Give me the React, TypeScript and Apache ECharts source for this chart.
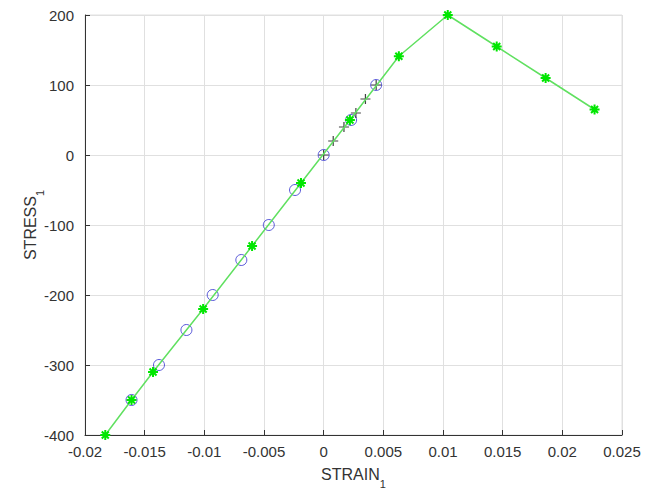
import React, { useEffect, useRef } from "react";
import * as echarts from "echarts";

const starX = [-0.0183, -0.0161, -0.0143, -0.0101, -0.006, -0.0019, 0.0022, 0.0063, 0.0104, 0.0145, 0.0186, 0.0227];
const starY = [-400, -350, -310, -220, -130, -40, 50, 141, 200, 155, 110, 65];

const circleX = [-0.0161, -0.0138, -0.0115, -0.0093, -0.0069, -0.0046, -0.0024, 0, 0.0023, 0.0044];
const circleY = [-350, -300, -250, -200, -150, -100, -50, 0, 50, 100];

const plusX = [0, 0.0008, 0.0017, 0.0027, 0.0035, 0.0044];
const plusY = [0, 20, 40, 60, 80, 100];

const xTicks = { min: -0.02, max: 0.025, interval: 0.005 };
const yTicks = { min: -400, max: 200, interval: 100 };

const FONT = "'Liberation Sans', Arial, Helvetica, sans-serif";
const STAR = "path://M5,0L5,10M0,5L10,5M1.5,1.5L8.5,8.5M1.5,8.5L8.5,1.5";
const PLUS = "path://M5,0L5,10M0,5L10,5";

export default function App() {
  const ref = useRef<HTMLDivElement>(null);
  useEffect(() => {
    if (!ref.current) return;
    const chart = echarts.init(ref.current, null, { renderer: "svg" });
    const axisCommon = {
      type: "value" as const,
      axisLine: { show: true, onZero: false, lineStyle: { color: "#333", width: 1 } },
      axisTick: { show: true, inside: true, length: 5, lineStyle: { color: "#333" } },
      splitLine: { show: true, lineStyle: { color: "#e0e0e0", width: 1 } },
      nameLocation: "middle" as const,
      nameMoveOverlap: false,
    };
    const nameRich = {
      a: { fontSize: 16, fontFamily: FONT, color: "#333", lineHeight: 18 },
      s: { fontSize: 11, fontFamily: FONT, color: "#333", lineHeight: 30, verticalAlign: "bottom" },
    };
    chart.setOption({
      animation: false,
      backgroundColor: "#fff",
      grid: {
        left: 85,
        right: 23,
        top: 15,
        bottom: 60,
        show: true,
        borderColor: "#e0e0e0",
        borderWidth: 1,
        backgroundColor: "#fff",
      },
      xAxis: {
        ...axisCommon,
        min: xTicks.min,
        max: xTicks.max,
        interval: xTicks.interval,
        axisLabel: {
          color: "#333",
          fontSize: 15,
          fontFamily: FONT,
          margin: 9,
          formatter: (v: number) => String(+v.toFixed(4)),
        },
        name: "{a|STRAIN}{s|1}",
        nameGap: 24,
        nameTextStyle: { rich: nameRich },
      },
      yAxis: {
        ...axisCommon,
        min: yTicks.min,
        max: yTicks.max,
        interval: yTicks.interval,
        axisLabel: {
          color: "#333",
          fontSize: 15,
          fontFamily: FONT,
          margin: 11,
        },
        name: "{a|STRESS}{s|1}",
        nameGap: 40,
        nameTextStyle: { rich: nameRich },
      },
      series: [
        {
          type: "scatter",
          data: circleX.map((x, i) => [x, circleY[i]]),
          symbol: "circle",
          symbolSize: 11,
          itemStyle: { color: "rgba(0,0,0,0)", borderColor: "#3030d0", borderWidth: 1 },
          z: 2,
        },
        {
          type: "scatter",
          data: plusX.map((x, i) => [x, plusY[i]]),
          symbol: PLUS,
          symbolSize: 10,
          itemStyle: { color: "rgba(0,0,0,0)", borderColor: "#111", borderWidth: 1.2 },
          z: 3,
        },
        {
          type: "line",
          data: starX.map((x, i) => [x, starY[i]]),
          symbol: STAR,
          symbolSize: 10,
          showAllSymbol: true,
          lineStyle: { color: "#60e060", width: 1.5 },
          itemStyle: { color: "rgba(0,0,0,0)", borderColor: "#00e600", borderWidth: 2 },
          z: 4,
        },
      ],
    });
    return () => chart.dispose();
  }, []);
  return (
    <div
      ref={ref}
      style={{ position: "fixed", left: 0, top: 0, width: 645, height: 495, background: "#fff" }}
    />
  );
}
